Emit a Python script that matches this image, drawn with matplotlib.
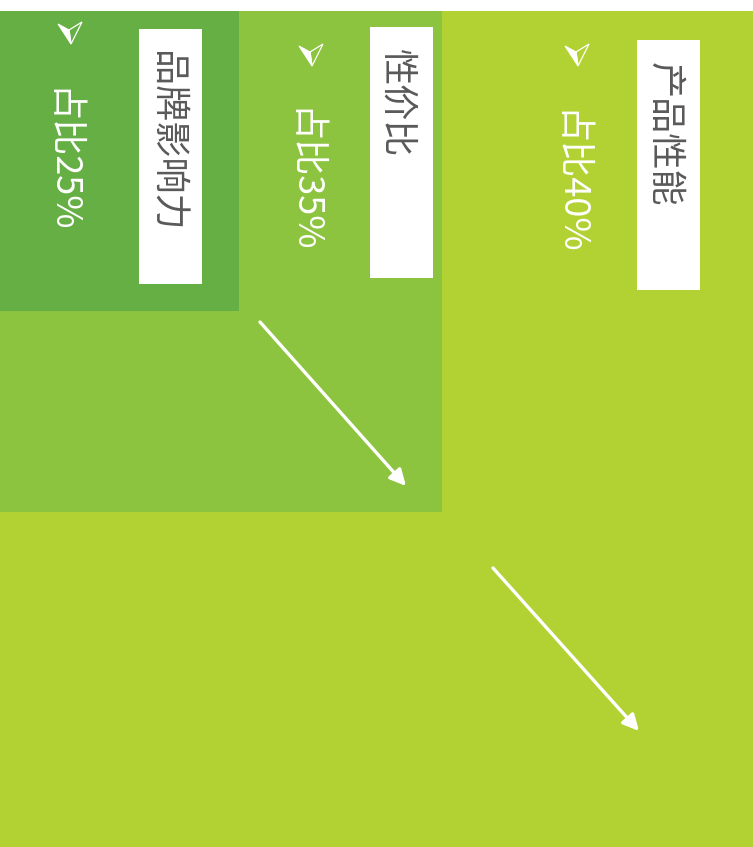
import matplotlib
matplotlib.use("Agg")
import matplotlib.pyplot as plt
from matplotlib.patches import Rectangle, Polygon

plt.rcParams['font.family'] = ['Noto Sans CJK SC', 'DejaVu Sans']

# ---- data ----
categories = ['产品性能', '性价比', '品牌影响力']
shares = [40, 35, 25]
share_labels = ['占比{}%'.format(s) for s in shares]

# ---- layout (pixel space of the 753x847 canvas) ----
W, H = 753, 847
rect_right = [753, 442, 239]
rect_bottom = [847, 512, 311]
rect_top = 11
rect_colors = ['#b2d234', '#8cc43f', '#66af45']

box_left = [637, 370, 139]
box_top = [40, 27, 29]
box_bottom = [290, 278, 284]
box_w = 63

pct_x = [568, 302, 60]
pct_top = [110, 108, 88]
icon_xy = [(577, 54), (311, 54), (70, 32)]

# icon outline offsets (paper-plane style arrowhead)
icon_left = [(-12, -8), (-1, -2), (1, 12)]
icon_right = [(-1, -2), (12, -10), (1, 12)]

arrows = [((260, 322), (406, 486)), ((493, 568), (639, 731))]

fig = plt.figure(figsize=(W / 100, H / 100), dpi=100)
ax = fig.add_axes([0, 0, 1, 1])
ax.set_xlim(0, W)
ax.set_ylim(H, 0)
ax.axis('off')

for r, b, c in zip(rect_right, rect_bottom, rect_colors):
    ax.add_patch(Rectangle((0, rect_top), r, b - rect_top, facecolor=c, edgecolor='none'))

for i, cat in enumerate(categories):
    l, t, b = box_left[i], box_top[i], box_bottom[i]
    ax.add_patch(Rectangle((l, t), box_w, b - t, facecolor='white', edgecolor='none'))
    ax.text(l + box_w / 2 - 5, t + 22, cat, rotation=-90, ha='center', va='top',
            fontsize=26, color='#595959')
    ax.text(pct_x[i], pct_top[i], share_labels[i], rotation=-90, ha='center', va='top',
            fontsize=26, color='white', fontweight='light')
    ix, iy = icon_xy[i]
    ax.add_patch(Polygon([(ix + dx, iy + dy) for dx, dy in icon_left], closed=True,
                         facecolor='white', edgecolor='white', lw=0.8))
    ax.add_patch(Polygon([(ix + dx, iy + dy) for dx, dy in icon_right], closed=True,
                         facecolor='none', edgecolor='white', lw=0.9))

for (x0, y0), (x1, y1) in arrows:
    ax.annotate('', xy=(x1, y1), xytext=(x0, y0),
                arrowprops=dict(arrowstyle='-|>', color='white', lw=2.4,
                                mutation_scale=24, shrinkA=0, shrinkB=0))

fig.savefig('out.png', dpi=100, facecolor='white')
